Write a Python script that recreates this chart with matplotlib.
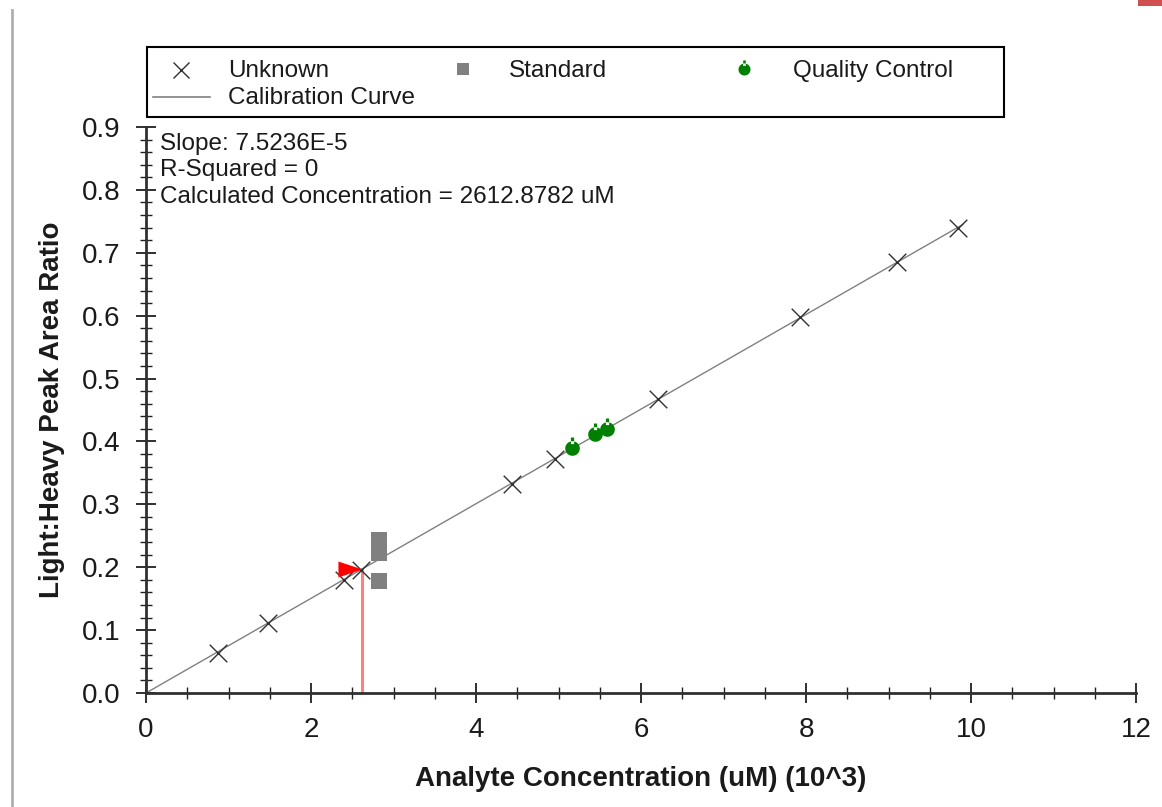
import matplotlib
matplotlib.use("Agg")
import matplotlib.pyplot as plt
import numpy as np
from matplotlib.path import Path
from matplotlib.ticker import MultipleLocator
from matplotlib.lines import Line2D
from matplotlib.patches import Rectangle
from matplotlib.transforms import offset_copy

plt.rcParams['font.family'] = ['Liberation Sans', 'DejaVu Sans']

# Data (x in 10^3 uM)
unknown_x = [0.873, 1.479, 2.40, 2.61, 4.436, 4.958, 6.206, 7.927, 9.103, 9.842]
unknown_y = [0.063, 0.111, 0.179, 0.196, 0.332, 0.372, 0.467, 0.598, 0.685, 0.740]
standard_x = [2.824, 2.824, 2.824, 2.824]
standard_y = [0.178, 0.222, 0.232, 0.243]
qc_x = [5.16, 5.44, 5.59]
qc_y = [0.389, 0.412, 0.420]
slope = 7.5236e-5  # per uM
r_squared = 0
calc_conc = 2612.8782  # uM
curve_x = [0.0, 9.90]
legend_labels = ['Unknown', 'Standard', 'Quality Control', 'Calibration Curve']

W, H = 1162, 807
fig = plt.figure(figsize=(W/100, H/100), dpi=100)
def fp(x, y):
    return (x / W, 1 - y / H)

ax = fig.add_axes([146/W, 1-693/H, (1136-146)/W, (693-127)/H])

# Calibration curve
cx = np.array(curve_x)
ax.plot(cx, cx * slope * 1000, color='#808080', lw=1.0, zorder=2)

# custom QC marker: circle with small stem on top
theta = np.linspace(0, 2*np.pi, 30)
circ = np.column_stack([np.cos(theta), np.sin(theta)])
stem = np.array([[-0.22, 0.6], [-0.22, 1.5], [0.22, 1.5], [0.22, 0.6], [-0.22, 0.6]])
verts = np.vstack([circ, stem])
codes = [Path.MOVETO] + [Path.LINETO]*(len(circ)-2) + [Path.CLOSEPOLY] + \
        [Path.MOVETO, Path.LINETO, Path.LINETO, Path.LINETO, Path.CLOSEPOLY]
qc_marker = Path(verts, codes)

flag = Path([(-1, 0.33), (-1, -0.33), (0, 0), (-1, 0.33)],
            [Path.MOVETO, Path.LINETO, Path.LINETO, Path.CLOSEPOLY])

ax.scatter(unknown_x, unknown_y, marker='x', s=160, color='#303030', linewidths=1.0, zorder=4)
ax.scatter(standard_x, standard_y, marker='s', s=130, color='#808080', linewidths=0, zorder=3)
ax.scatter(qc_x, qc_y, marker=qc_marker, s=250, color='#008000', linewidths=0, zorder=4)

# Calculated concentration indicator
xc = calc_conc / 1000
yc = xc * slope * 1000
ax.plot([xc, xc], [0, yc], color='#ff8080', lw=2.2, zorder=1)
ax.scatter([xc], [yc], marker=flag, s=1200, color='#ff0000', linewidths=0, zorder=5)

txt_tr = offset_copy(ax.transAxes, fig=fig, x=0, y=-4, units='points')
ax.text(0.0145, 1.0, f"Slope: {slope:.4E}".replace("E-05", "E-5") +
        f"\nR-Squared = {r_squared}\nCalculated Concentration = {calc_conc:.4f} uM",
        transform=txt_tr, va='top', ha='left', fontsize=17.5, linespacing=1.28,
        color='#1a1a1a')

ax.set_xlim(0, 12)
ax.set_ylim(0, 0.9)
ax.xaxis.set_major_locator(MultipleLocator(2))
ax.xaxis.set_minor_locator(MultipleLocator(0.5))
ax.yaxis.set_major_locator(MultipleLocator(0.1))
ax.yaxis.set_minor_locator(MultipleLocator(0.02))
ax.yaxis.set_major_formatter(plt.FuncFormatter(lambda v, p: f"{v:.1f}"))
ax.tick_params(which='major', direction='inout', length=15, width=1.3, labelsize=20,
               color='#202020', labelcolor='#1a1a1a')
ax.tick_params(which='minor', direction='inout', length=8, width=1.0, color='#202020')
ax.tick_params(axis='x', which='major', pad=10)
ax.tick_params(axis='y', which='major', pad=11)
for s in ['top', 'right']:
    ax.spines[s].set_visible(False)
for s in ['left', 'bottom']:
    ax.spines[s].set_linewidth(2.0)
    ax.spines[s].set_color('#303030')

ax.set_xlabel('Analyte Concentration (uM) (10^3)', fontsize=20, fontweight='bold', labelpad=16,
              color='#1a1a1a')
ax.set_ylabel('Light:Heavy Peak Area Ratio', fontsize=20, fontweight='bold', labelpad=12,
              color='#1a1a1a')

# Legend box (drawn manually to reproduce fixed-width columns)
x0, y0 = fp(147, 117)
x1, y1 = fp(1004, 47)
fig.add_artist(Rectangle((x0, y0), x1 - x0, y1 - y0, transform=fig.transFigure,
                         facecolor='white', edgecolor='#000000', lw=1.5))
col_handle_x = [181, 463, 744]
col_text_x = [228, 509, 793]
row_y = [71, 98]
hx, hy = fp(col_handle_x[0], row_y[0] - 1)
fig.add_artist(Line2D([hx], [hy], marker='x', markersize=12, mew=1.0, color='#303030',
                      transform=fig.transFigure))
hx, hy = fp(col_handle_x[1], row_y[0] - 2)
fig.add_artist(Line2D([hx], [hy], marker='s', markersize=9, mew=0, color='#808080',
                      transform=fig.transFigure))
hx, hy = fp(col_handle_x[2], row_y[0] - 2)
fig.add_artist(Line2D([hx], [hy], marker=qc_marker, markersize=13, mew=0, color='#008000',
                      transform=fig.transFigure))
la, ly = fp(153, row_y[1] - 1)
lb, _ = fp(210, row_y[1] - 1)
fig.add_artist(Line2D([la, lb], [ly, ly], color='#808080', lw=1.2, transform=fig.transFigure))
for i, lab in enumerate(legend_labels[:3]):
    tx, ty = fp(col_text_x[i], row_y[0])
    fig.text(tx, ty, lab, fontsize=17.5, va='center', ha='left', color='#1a1a1a')
tx, ty = fp(col_text_x[0], row_y[1])
fig.text(tx, ty, legend_labels[3], fontsize=17.5, va='center', ha='left', color='#1a1a1a')

fig.add_artist(Line2D([12/W, 12/W], [0, 1-10/H], transform=fig.transFigure,
                      color='#b0b0b0', lw=2))
fig.add_artist(Rectangle((1138/W, 1-6/H), 24/W, 6/H, transform=fig.transFigure,
                         color='#d05050', lw=0))

fig.savefig('out.png', dpi=100)
